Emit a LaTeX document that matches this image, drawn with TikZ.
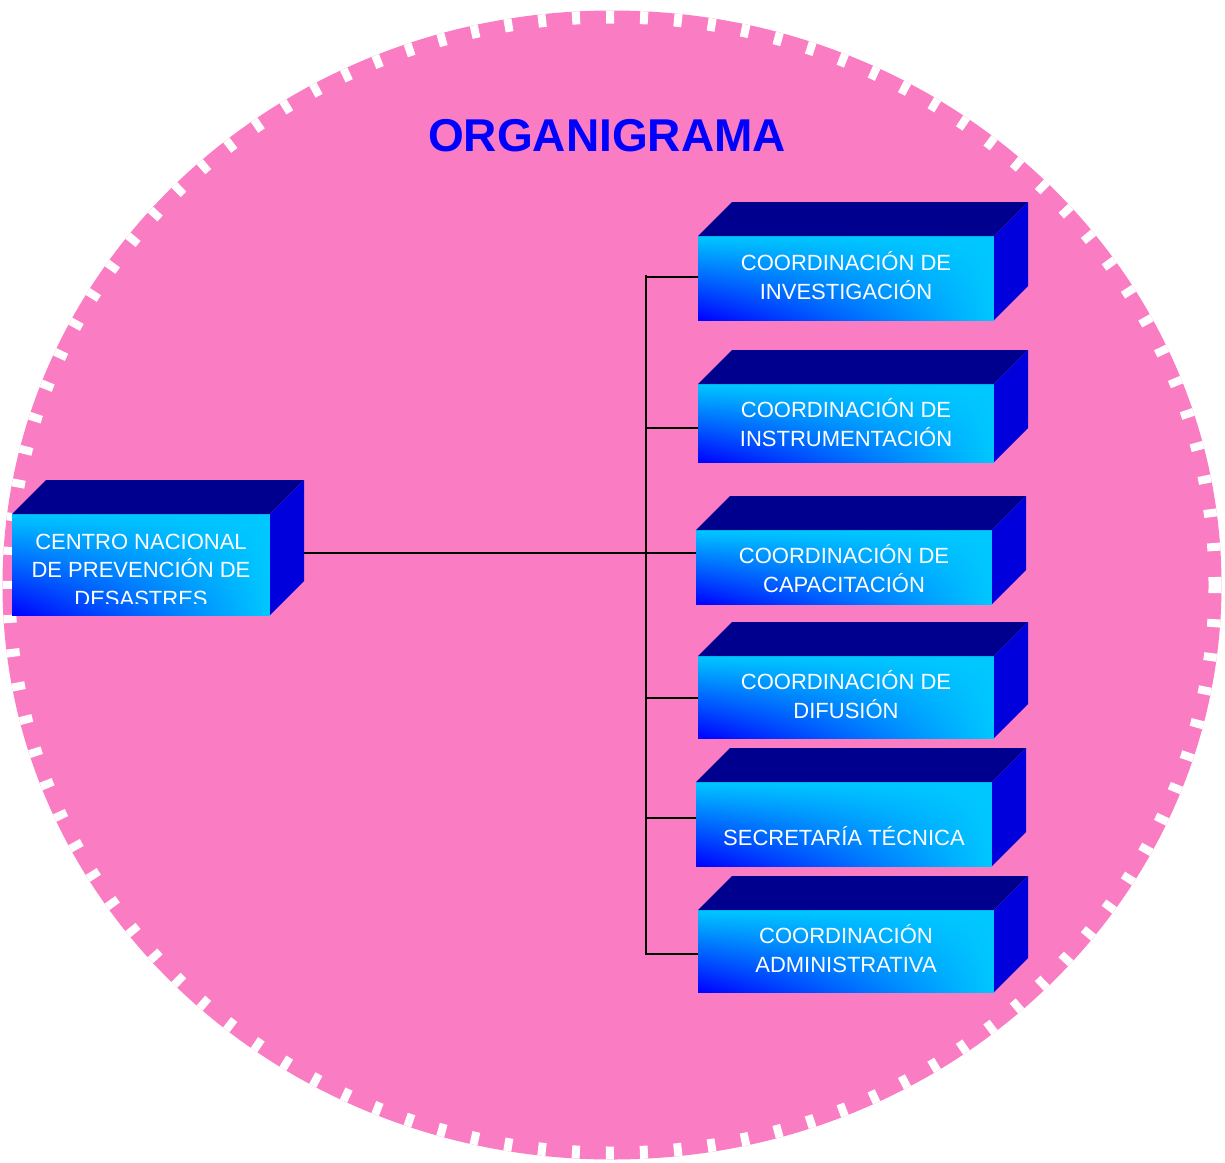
\documentclass[tikz,border=0pt]{standalone}
\usepackage{fontspec}
\setmainfont{Liberation Sans}
\usetikzlibrary{shadings}
\definecolor{pinkbg}{HTML}{FA7CC2}
\definecolor{cyanf}{HTML}{00C8FF}
\definecolor{bluef}{HTML}{0000FF}
\definecolor{topc}{HTML}{00008F}
\definecolor{sidec}{HTML}{0000DC}
\definecolor{titleblue}{HTML}{0000FF}
\pgfdeclarelayer{bg}
\pgfdeclarelayer{conn}
\pgfsetlayers{bg,conn,main}
\newcommand\cubefaces[1]{%
  \fill[topc] (#1.north west) -- ++(34,-34) -- ([shift={(34,-34)}]#1.north east) -- (#1.north east) -- cycle;
  \fill[sidec] (#1.north east) -- ++(34,-34) -- ([shift={(34,-34)}]#1.south east) -- (#1.south east) -- cycle;
}
\begin{document}
\begin{tikzpicture}[x=1pt,y=-1pt,
  front/.style={shade, shading=bilinear interpolation, lower left=bluef, upper left=cyanf, upper right=cyanf, lower right=cyanf, inner sep=0pt, outer sep=0pt},
  boxtext/.style={text=white, align=center, font=\fontsize{22}{28.5}\selectfont},
  connector/.style={line width=2pt, black}]
\useasboundingbox (0,0) rectangle (1225,1162);
\begin{pgfonlayer}{bg}
  \fill[white] (0,0) rectangle (1225,1162);
  \draw[pinkbg, line width=13pt, fill=pinkbg] (612,585) ellipse [x radius=603pt, y radius=568pt];
  \draw[white, line width=13pt, dash pattern=on 8pt off 26pt] (612,585) ellipse [x radius=603pt, y radius=568pt];
\end{pgfonlayer}

\node[font=\bfseries\fontsize{46}{50}\selectfont, text=titleblue] (title) at (607,136) {ORGANIGRAMA};

% front faces
\node[front, minimum width=258pt, minimum height=101pt] (centro) at (141,564.5) {};
\node[front, minimum width=296pt, minimum height=84pt] (inv) at (846,278) {};
\node[front, minimum width=296pt, minimum height=78pt] (ins) at (846,423) {};
\node[front, minimum width=296pt, minimum height=74pt] (cap) at (844,567) {};
\node[front, minimum width=296pt, minimum height=82pt] (dif) at (846,697) {};
\node[front, minimum width=296pt, minimum height=84pt] (sec) at (844,824) {};
\node[front, minimum width=296pt, minimum height=82pt] (adm) at (846,951) {};

% texts
\node[boxtext] (invtxt) at (846,275.5) {COORDINACIÓN DE\\INVESTIGACIÓN};
\node[boxtext] (instxt) at (846,422.5) {COORDINACIÓN DE\\INSTRUMENTACIÓN};
\node[boxtext] (captxt) at (844,568.5) {COORDINACIÓN DE\\CAPACITACIÓN};
\node[boxtext] (diftxt) at (846,694.5) {COORDINACIÓN DE\\DIFUSIÓN};
\node[boxtext] (sectxt) at (844,836) {SECRETARÍA TÉCNICA};
\node[boxtext] (admtxt) at (846,948.5) {COORDINACIÓN\\ADMINISTRATIVA};
\begin{scope}
  \clip (centro.north west) rectangle ([shift={(0,-12)}]centro.south east);
  \node[boxtext] (centrotxt) at (141,570) {CENTRO NACIONAL\\DE PREVENCIÓN DE\\DESASTRES};
\end{scope}

\cubefaces{centro}
\cubefaces{inv}
\cubefaces{ins}
\cubefaces{cap}
\cubefaces{dif}
\cubefaces{sec}
\cubefaces{adm}

% connectors
\coordinate (sptop) at (646,275);
\coordinate (spbot) at (646,955);
\coordinate (b1) at (646,277);
\coordinate (b2) at (646,428);
\coordinate (hub) at (646,553);
\coordinate (b4) at (646,698);
\coordinate (b5) at (646,818);
\coordinate (b6) at (646,954);
\begin{pgfonlayer}{conn}
  \draw[connector] (sptop) -- (spbot);
  \draw[connector] (centro.east |- hub) -- (cap.west |- hub);
  \draw[connector] (b1) -- (inv.west |- b1);
  \draw[connector] (b2) -- (ins.west |- b2);
  \draw[connector] (b4) -- (dif.west |- b4);
  \draw[connector] (b5) -- (sec.west |- b5);
  \draw[connector] (b6) -- (adm.west |- b6);
\end{pgfonlayer}
\end{tikzpicture}
\end{document}
